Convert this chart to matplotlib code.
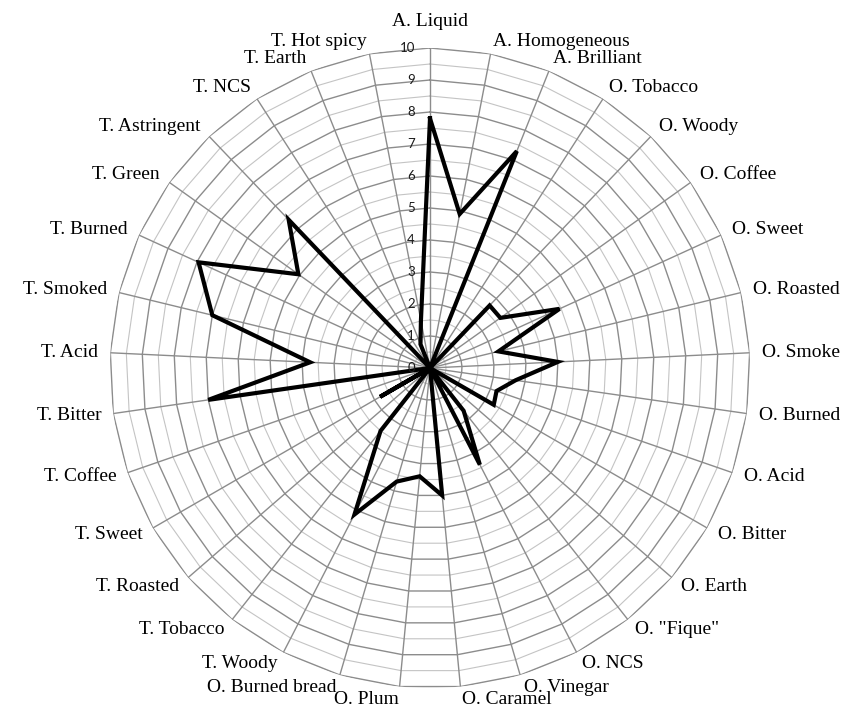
import numpy as np
import matplotlib
matplotlib.use("Agg")
import matplotlib.pyplot as plt

# Attributes (A. appearance, O. odour, T. taste)
categories = [
    "A. Liquid", "A. Homogeneous", "A. Brilliant", "O. Tobacco", "O. Woody",
    "O. Coffee", "O. Sweet", "O. Roasted", "O. Smoke", "O. Burned", "O. Acid",
    "O. Bitter", "O. Earth", 'O. "Fique"', "O. NCS", "O. Vinegar", "O. Caramel",
    "O. Plum", "O. Burned bread", "T. Woody", "T. Tobacco", "T. Roasted",
    "T. Sweet", "T. Coffee", "T. Bitter", "T. Acid", "T. Smoked", "T. Burned",
    "T. Green", "T. Astringent", "T. NCS", "T. Earth", "T. Hot spicy",
]
scores = [
    7.8, 4.9, 7.3, 0.0, 2.7,
    2.7, 4.45, 2.2, 4.0, 2.7, 2.2,
    2.3, 0.0, 1.7, 3.4, 0.0, 4.0,
    3.4, 3.7, 5.15, 2.5, 0.0,
    1.8, 0.0, 7.0, 3.75, 7.0, 7.95,
    5.05, 6.4, 0.0, 0.8, 1.5,
]
axis_ticks = list(range(0, 11))

n = len(categories)
theta = np.linspace(0, 2 * np.pi, n, endpoint=False)
theta_closed = np.append(theta, theta[0])

fig = plt.figure(figsize=(8.55, 7.09), dpi=100)
ax = fig.add_axes([110 / 855, 21 / 709, 640 / 855, 640 / 709], projection="polar")
ax.set_theta_offset(np.pi / 2)
ax.set_theta_direction(-1)
ax.set_ylim(0, 10)
ax.grid(False)
ax.set_xticks([])
ax.set_yticks([])
ax.spines["polar"].set_visible(False)
ax.patch.set_alpha(0)

# polygon gridlines, minor every 0.5 and major every 1
for lev in np.arange(0.5, 10.01, 0.5):
    major = abs(lev - round(lev)) < 1e-6
    ax.plot(theta_closed, np.full(n + 1, lev),
            color="#8c8c8c" if major else "#c4c4c4",
            lw=1.0 if major else 0.8, zorder=1)

# spokes
for t in theta:
    ax.plot([t, t], [0, 10], color="#8c8c8c", lw=1.0, zorder=1)

# data series
ax.plot(theta_closed, np.append(scores, scores[0]), color="black", lw=3.0,
        solid_joinstyle="miter", zorder=5)

# value axis labels
for v in axis_ticks:
    ax.annotate(str(v), xy=(0, v), xytext=(-15, 0), textcoords="offset pixels",
                ha="right", va="center", fontsize=9.5, family="Lato",
                color="#1a1a1a", zorder=6)

# category labels
for name, t in zip(categories, theta):
    s, c = np.sin(t), np.cos(t)
    if s > 0.02:
        ha = "left"
    elif s < -0.02:
        ha = "right"
    else:
        ha = "center"
    dy = 13 * c if ha != "center" else 27
    ax.annotate(name, xy=(t, 10), xytext=(12 * s, dy), textcoords="offset pixels",
                ha=ha, va="center", fontsize=14, family="Liberation Serif",
                annotation_clip=False)

fig.savefig("out.png", dpi=100)
